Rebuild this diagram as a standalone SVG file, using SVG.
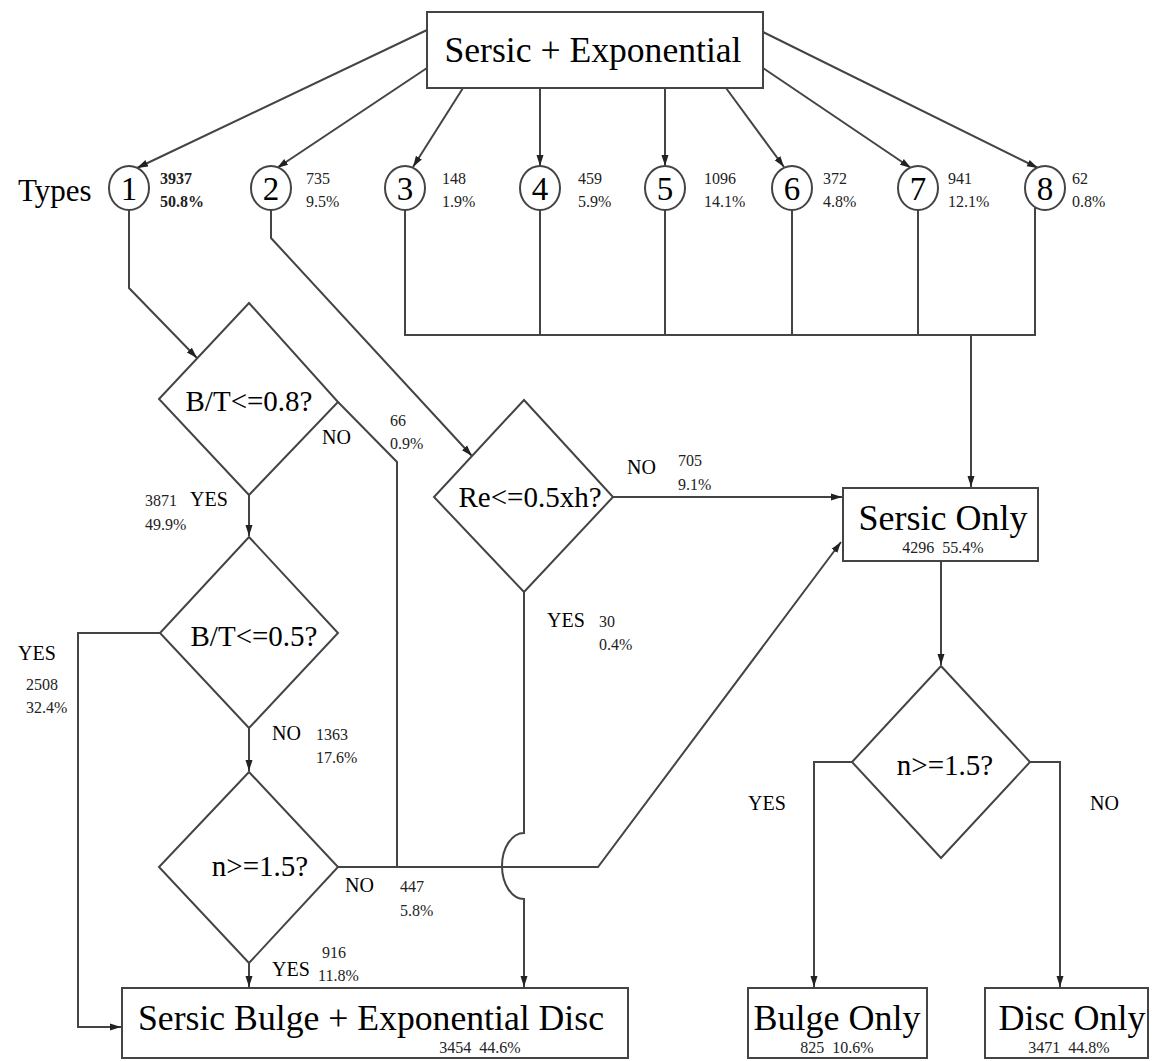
<svg xmlns="http://www.w3.org/2000/svg" width="1160" height="1061" viewBox="0 0 1160 1061">
<defs>
<marker id="arr" markerUnits="userSpaceOnUse" markerWidth="12" markerHeight="10" refX="11" refY="5" orient="auto">
<path d="M0,1.5 L11,5 L0,8.5 Z" fill="#222"/>
</marker>
<style>
.box{fill:#fff;stroke:#444;stroke-width:2}
.dia{fill:#fff;stroke:#444;stroke-width:2}
.ln{fill:none;stroke:#444;stroke-width:2}
.t{font-family:"Liberation Serif","Times New Roman",serif;fill:#000}
.big{font-size:36px}
.q{font-size:29px}
.lab{font-size:20px}
.num{font-size:16px;fill:#222}
.dig{font-size:33px}
</style>
</defs>
<rect width="1160" height="1061" fill="#fff"/>

<g id="connectors">
<path class="ln" marker-end="url(#arr)" d="M427,30 L137,168"/>
<path class="ln" marker-end="url(#arr)" d="M427,68 L277,168"/>
<path class="ln" marker-end="url(#arr)" d="M463,88 L413,167"/>
<path class="ln" marker-end="url(#arr)" d="M540,88 L540,166"/>
<path class="ln" marker-end="url(#arr)" d="M665,88 L665,166"/>
<path class="ln" marker-end="url(#arr)" d="M726,88 L784,167"/>
<path class="ln" marker-end="url(#arr)" d="M763,68 L911,168"/>
<path class="ln" marker-end="url(#arr)" d="M763,32 L1038,168"/>

<path class="ln" marker-end="url(#arr)" d="M129,208 L129,288 L197,358"/>
<path class="ln" marker-end="url(#arr)" d="M271,208 L271,238 L472,456"/>

<path class="ln" d="M405,208 L405,335 L1035,335 L1035,204"/>
<path class="ln" d="M540,208 L540,335"/>
<path class="ln" d="M665,208 L665,335"/>
<path class="ln" d="M792,208 L792,335"/>
<path class="ln" d="M918,208 L918,335"/>
<path class="ln" marker-end="url(#arr)" d="M971,335 L971,487"/>

<path class="ln" d="M338,402 L397,462 L397,867"/>
<path class="ln" marker-end="url(#arr)" d="M249,495 L249,536"/>
<path class="ln" marker-end="url(#arr)" d="M160,633 L78,633 L78,1027 L121,1027"/>
<path class="ln" marker-end="url(#arr)" d="M249,728 L249,771"/>
<path class="ln" marker-end="url(#arr)" d="M338,867 L598,867 L841,542"/>
<path class="ln" marker-end="url(#arr)" d="M249,963 L249,987"/>
<path class="ln" marker-end="url(#arr)" d="M524,592 L524,833 A22,33 0 0 0 524,899 L524,987"/>
<path class="ln" marker-end="url(#arr)" d="M613,497 L842,497"/>
<path class="ln" marker-end="url(#arr)" d="M941,561 L941,665"/>
<path class="ln" marker-end="url(#arr)" d="M852,762 L814,762 L814,987"/>
<path class="ln" marker-end="url(#arr)" d="M1030,762 L1060,762 L1060,987"/>
</g>

<g id="root">
<rect class="box" x="427" y="12" width="336" height="76"/>
<text class="t big" x="593" y="62" text-anchor="middle" textLength="297" lengthAdjust="spacingAndGlyphs">Sersic + Exponential</text>
</g>

<text class="t" x="18" y="201" font-size="31">Types</text>

<g id="type1"><ellipse class="box" cx="129" cy="188" rx="20" ry="22"/><text class="t dig" x="129" y="200" text-anchor="middle">1</text>
<text class="t num" x="160" y="184" font-weight="bold">3937</text><text class="t num" x="160" y="207" font-weight="bold">50.8%</text></g>
<g id="type2"><ellipse class="box" cx="271" cy="188" rx="20" ry="22"/><text class="t dig" x="271" y="200" text-anchor="middle">2</text>
<text class="t num" x="306" y="184">735</text><text class="t num" x="306" y="207">9.5%</text></g>
<g id="type3"><ellipse class="box" cx="405" cy="188" rx="20" ry="22"/><text class="t dig" x="405" y="200" text-anchor="middle">3</text>
<text class="t num" x="442" y="184">148</text><text class="t num" x="442" y="207">1.9%</text></g>
<g id="type4"><ellipse class="box" cx="540" cy="188" rx="20" ry="22"/><text class="t dig" x="540" y="200" text-anchor="middle">4</text>
<text class="t num" x="578" y="184">459</text><text class="t num" x="578" y="207">5.9%</text></g>
<g id="type5"><ellipse class="box" cx="665" cy="188" rx="20" ry="22"/><text class="t dig" x="665" y="200" text-anchor="middle">5</text>
<text class="t num" x="704" y="184">1096</text><text class="t num" x="704" y="207">14.1%</text></g>
<g id="type6"><ellipse class="box" cx="792" cy="188" rx="20" ry="22"/><text class="t dig" x="792" y="200" text-anchor="middle">6</text>
<text class="t num" x="823" y="184">372</text><text class="t num" x="823" y="207">4.8%</text></g>
<g id="type7"><ellipse class="box" cx="918" cy="188" rx="20" ry="22"/><text class="t dig" x="918" y="200" text-anchor="middle">7</text>
<text class="t num" x="948" y="184">941</text><text class="t num" x="948" y="207">12.1%</text></g>
<g id="type8"><ellipse class="box" cx="1045" cy="188" rx="20" ry="22"/><text class="t dig" x="1045" y="200" text-anchor="middle">8</text>
<text class="t num" x="1072" y="184">62</text><text class="t num" x="1072" y="207">0.8%</text></g>

<g id="q1">
<polygon class="dia" points="249,303 338,402 249,495 159,399"/>
<text class="t q" x="249" y="411" text-anchor="middle">B/T&lt;=0.8?</text>
</g>
<g id="q2">
<polygon class="dia" points="249,537 338,633 249,728 160,633"/>
<text class="t q" x="254" y="646" text-anchor="middle">B/T&lt;=0.5?</text>
</g>
<g id="q3">
<polygon class="dia" points="249,772 338,867 249,963 159,867"/>
<text class="t q" x="260" y="876" text-anchor="middle">n&gt;=1.5?</text>
</g>
<g id="q4">
<polygon class="dia" points="524,400 613,497 524,592 434,497"/>
<text class="t q" x="530" y="507" text-anchor="middle">Re&lt;=0.5xh?</text>
</g>
<g id="q5">
<polygon class="dia" points="941,666 1030,762 941,858 852,762"/>
<text class="t q" x="945" y="775" text-anchor="middle">n&gt;=1.5?</text>
</g>

<g id="sersic-only">
<rect class="box" x="843" y="488" width="195" height="73"/>
<text class="t big" x="943" y="530" text-anchor="middle">Sersic Only</text>
<text class="t num" x="943" y="553" text-anchor="middle" xml:space="preserve">4296  55.4%</text>
</g>
<g id="bulge-disc">
<rect class="box" x="122" y="988" width="506" height="70"/>
<text class="t big" x="371" y="1030" text-anchor="middle" textLength="466" lengthAdjust="spacingAndGlyphs">Sersic Bulge + Exponential Disc</text>
<text class="t num" x="480" y="1053" text-anchor="middle" xml:space="preserve">3454  44.6%</text>
</g>
<g id="bulge-only">
<rect class="box" x="748" y="988" width="179" height="70"/>
<text class="t big" x="837" y="1030" text-anchor="middle">Bulge Only</text>
<text class="t num" x="837" y="1053" text-anchor="middle" xml:space="preserve">825  10.6%</text>
</g>
<g id="disc-only">
<rect class="box" x="985" y="988" width="163" height="70"/>
<text class="t big" x="1072" y="1030" text-anchor="middle">Disc Only</text>
<text class="t num" x="1069" y="1053" text-anchor="middle" xml:space="preserve">3471  44.8%</text>
</g>

<g id="labels">
<text class="t lab" x="322" y="444">NO</text>
<text class="t num" x="390" y="426">66</text><text class="t num" x="390" y="449">0.9%</text>
<text class="t num" x="145" y="506">3871</text><text class="t lab" x="190" y="506">YES</text>
<text class="t num" x="145" y="530">49.9%</text>
<text class="t lab" x="18" y="660">YES</text>
<text class="t num" x="26" y="690">2508</text><text class="t num" x="26" y="713">32.4%</text>
<text class="t lab" x="272" y="740">NO</text>
<text class="t num" x="316" y="740">1363</text><text class="t num" x="316" y="763">17.6%</text>
<text class="t lab" x="345" y="892">NO</text>
<text class="t num" x="400" y="892">447</text><text class="t num" x="400" y="916">5.8%</text>
<text class="t lab" x="272" y="976">YES</text>
<text class="t num" x="322" y="958">916</text><text class="t num" x="318" y="981">11.8%</text>
<text class="t lab" x="547" y="627">YES</text>
<text class="t num" x="599" y="627">30</text><text class="t num" x="599" y="650">0.4%</text>
<text class="t lab" x="627" y="474">NO</text>
<text class="t num" x="678" y="466">705</text><text class="t num" x="678" y="490">9.1%</text>
<text class="t lab" x="748" y="810">YES</text>
<text class="t lab" x="1090" y="810">NO</text>
</g>
</svg>
